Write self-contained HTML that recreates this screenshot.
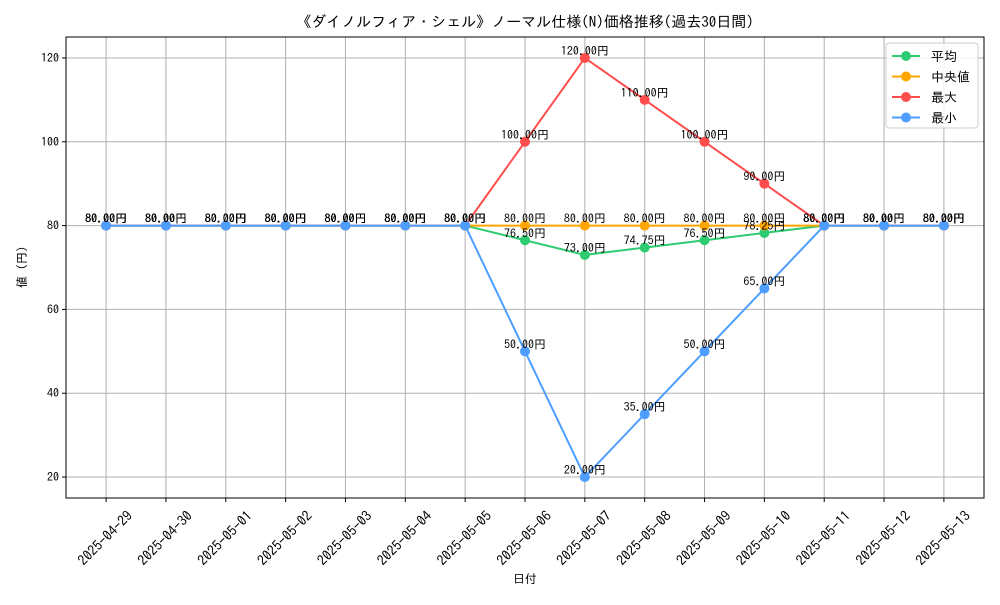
<!DOCTYPE html>
<html><head><meta charset="utf-8"><style>
body{margin:0;background:#fff}
svg text{font-family:"IPAGothic","Liberation Sans","Noto Sans CJK JP",sans-serif}
</style></head><body>
<svg id="chart" width="1000" height="600" xmlns="http://www.w3.org/2000/svg">
<rect width="1000" height="600" fill="#fff"/>
<text x="525" y="27" text-anchor="middle" font-size="15">《ダイノルフィア・シェル》ノーマル仕様(N)価格推移(過去30日間)</text>
<g id="grid"></g><g id="axes"></g><g id="series"></g><g id="labels"></g>
<rect x="66" y="37" width="918" height="461" fill="none" stroke="#000" stroke-width="1"/>
<text x="525" y="583" text-anchor="middle" font-size="12">日付</text>
<text transform="translate(26,267) rotate(-90)" text-anchor="middle" font-size="12">値 (円)</text>
<g>
<rect x="886" y="43" width="92" height="85" rx="3" fill="#fff" fill-opacity="0.8" stroke="#ccc"/>
</g>
<g id="legend"></g>
</svg>
<script>
const categories=["2025-04-29","2025-04-30","2025-05-01","2025-05-02","2025-05-03","2025-05-04","2025-05-05","2025-05-06","2025-05-07","2025-05-08","2025-05-09","2025-05-10","2025-05-11","2025-05-12","2025-05-13"];
const avgValues=[80,80,80,80,80,80,80,76.5,73,74.75,76.5,78.25,80,80,80];
const medianValues=[80,80,80,80,80,80,80,80,80,80,80,80,80,80,80];
const maxValues=[80,80,80,80,80,80,80,100,120,110,100,90,80,80,80];
const minValues=[80,80,80,80,80,80,80,50,20,35,50,65,80,80,80];
const yTicks=[20,40,60,80,100,120];
const seriesNames=["平均","中央値","最大","最小"];
const NS="http://www.w3.org/2000/svg";
const X0=66,X1=984,Y0=37,Y1=498,XMIN=-0.67,XMAX=14.67,YMIN=15,YMAX=125;
const xs=i=>X0+(i-XMIN)/(XMAX-XMIN)*(X1-X0);
const ys=v=>Y1-(v-YMIN)/(YMAX-YMIN)*(Y1-Y0);
function mk(tag,attrs,parent,txt){const e=document.createElementNS(NS,tag);for(const k in attrs)e.setAttribute(k,attrs[k]);if(txt!==undefined)e.textContent=txt;parent.appendChild(e);return e;}
const grid=document.getElementById('grid'),axes=document.getElementById('axes');
categories.forEach((c,i)=>{const x=xs(i);
 const g=mk('line',{x1:x,x2:x,y1:Y0,y2:Y1,stroke:'#b0b0b0','stroke-width':1},grid);
 
 
 mk('line',{x1:x,x2:x,y1:Y1,y2:Y1+4,stroke:'#000'},axes);
 const t=mk('text',{x:0,y:5,'font-size':14,'text-anchor':'middle',transform:`translate(${x-1},538) rotate(-45)`},axes,c);
 
 
});
yTicks.forEach(v=>{const y=ys(v);
 const g=mk('line',{x1:X0,x2:X1,y1:y,y2:y,stroke:'#b0b0b0','stroke-width':1},grid);
 
 
 mk('line',{x1:X0-4,x2:X0,y1:y,y2:y,stroke:'#000'},axes);
 const t=mk('text',{x:X0-7,y:y+4,'font-size':12,'text-anchor':'end'},axes,String(v));
 
 
});
const all=[[avgValues,'#2ecc71','average'],[medianValues,'#ffa500','median'],[maxValues,'#ff4d4d','max'],[minValues,'#4d9eff','min']];
const S=document.getElementById('series'),L=document.getElementById('labels'),LG=document.getElementById('legend');
all.forEach(([vals,col,nm],si)=>{
 const g=mk('g',{},S);
 
 
 const p=mk('polyline',{points:vals.map((v,i)=>xs(i)+','+ys(v)).join(' '),fill:'none',stroke:col,'stroke-width':2},g);
 
 
 vals.forEach((v,i)=>{
  const c=mk('circle',{cx:xs(i),cy:ys(v),r:5,fill:col},g);
  
  
  const t=mk('text',{x:xs(i),y:ys(v)-3,'font-size':12,'text-anchor':'middle'},L,v.toFixed(2)+'円');
  
  
 });
 const ly=56+si*20.5;
 const e=mk('g',{},LG);
 
 
 mk('line',{x1:892,x2:920,y1:ly,y2:ly,stroke:col,'stroke-width':2},e);
 mk('circle',{cx:906,cy:ly,r:5,fill:col},e);
 mk('text',{x:931,y:ly+5,'font-size':13},e,si===1?' '+seriesNames[si]:seriesNames[si]);
});
</script>
</body></html>
